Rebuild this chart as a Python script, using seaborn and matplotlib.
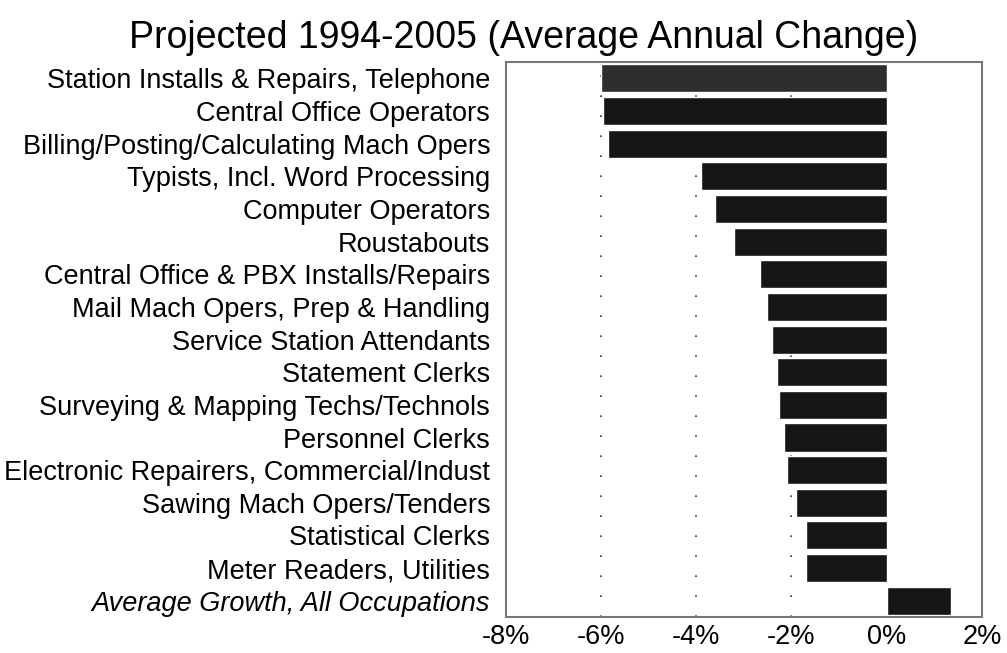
import matplotlib
matplotlib.use("Agg")
import matplotlib.pyplot as plt
import pandas as pd
import seaborn as sns

sns.set_style("white")
plt.rcParams["font.family"] = ["Liberation Sans", "DejaVu Sans"]
plt.rcParams["text.color"] = "black"
plt.rcParams["xtick.color"] = "black"
plt.rcParams["ytick.color"] = "black"

# Data (average annual change, %)
occupations = [
    "Station Installs & Repairs, Telephone",
    "Central Office Operators",
    "Billing/Posting/Calculating Mach Opers",
    "Typists, Incl. Word Processing",
    "Computer Operators",
    "Roustabouts",
    "Central Office & PBX Installs/Repairs",
    "Mail Mach Opers, Prep & Handling",
    "Service Station Attendants",
    "Statement Clerks",
    "Surveying & Mapping Techs/Technols",
    "Personnel Clerks",
    "Electronic Repairers, Commercial/Indust",
    "Sawing Mach Opers/Tenders",
    "Statistical Clerks",
    "Meter Readers, Utilities",
    "Average Growth, All Occupations",
]
changes = [-6.0, -5.95, -5.85, -3.9, -3.6, -3.2, -2.65, -2.5, -2.4, -2.3,
           -2.25, -2.15, -2.1, -1.9, -1.7, -1.7, 1.35]
x_ticks = [-8, -6, -4, -2, 0, 2]
x_tick_labels = ["-8%", "-6%", "-4%", "-2%", "0%", "2%"]

df = pd.DataFrame({"Occupation": occupations, "Change": changes})

fig = plt.figure(figsize=(10.07, 6.53), dpi=100)
ax = fig.add_axes([0.502, 0.055, 0.473, 0.85])

# dotted reference lines
for gx in [-6, -4, -2]:
    ax.axvline(gx, color="#333333", linestyle=(0, (1, 11)), linewidth=1.2, zorder=0)

sns.barplot(data=df, x="Change", y="Occupation", orient="h", color="#161616",
            saturation=1, width=0.86, ax=ax, zorder=2)
# first bar looks a bit lighter in the original scan
ax.patches[0].set_facecolor("#2e2e2e")

ax.set_xlim(-8, 2)
ax.set_xticks(x_ticks)
ax.set_xticklabels(x_tick_labels, fontsize=19.5)
ax.tick_params(axis="y", labelsize=19.5, length=0, pad=11)
ax.tick_params(axis="x", length=0, pad=5)
ax.get_yticklabels()[-1].set_fontstyle("italic")
ax.set_xlabel("")
ax.set_ylabel("")

for s in ax.spines.values():
    s.set_color("#777777")
    s.set_linewidth(1.5)

fig.text(0.52, 0.942, "Projected 1994-2005 (Average Annual Change)",
         ha="center", va="center", fontsize=27)

fig.savefig("out.png", dpi=100)
